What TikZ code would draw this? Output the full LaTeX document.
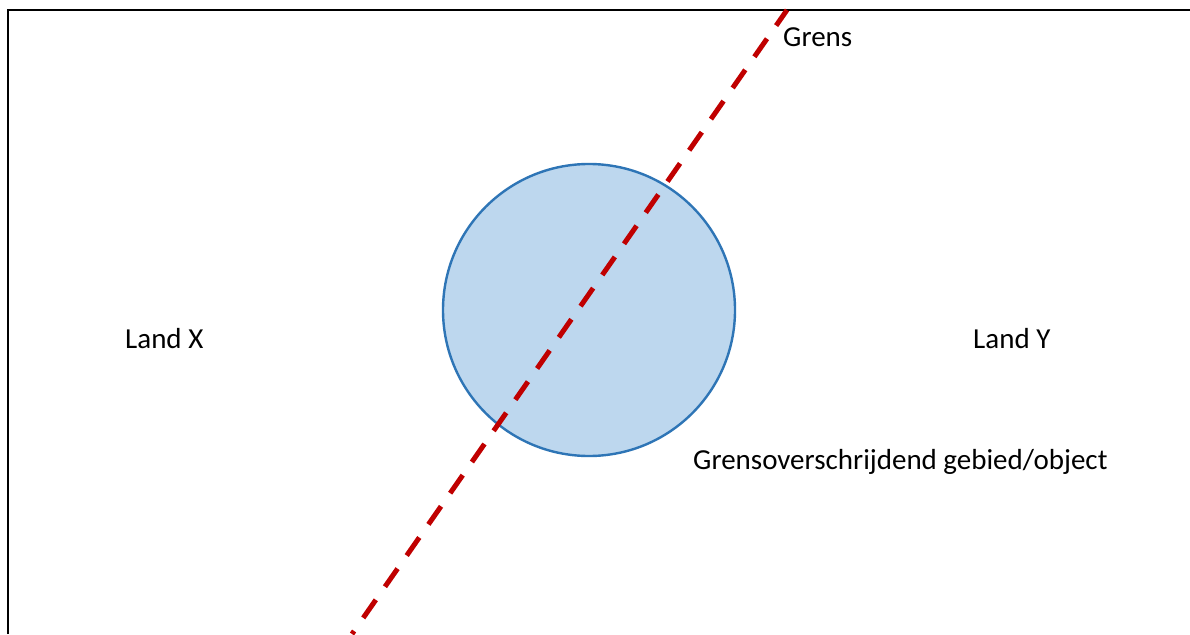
\documentclass[tikz,border=0pt]{standalone}
\usepackage{fontspec}
\setmainfont{Carlito}
\definecolor{areafill}{HTML}{BDD7EE}
\definecolor{areadraw}{HTML}{2E75B6}
\definecolor{grensred}{HTML}{C00000}
\begin{document}
\begin{tikzpicture}[x=1pt,y=-1pt,
  framestyle/.style={line width=2.2pt, black},
  areastyle/.style={circle, draw=areadraw, fill=areafill, line width=2.4pt, minimum size=292pt, inner sep=0pt},
  grensline/.style={draw=grensred, line width=5pt, dash pattern=on 22pt off 16pt, dash phase=3pt},
  lbl/.style={inner sep=0pt, anchor=base west, font=\fontsize{29}{35}\selectfont, text=black}]
\useasboundingbox (0,0) rectangle (1190,634);
\fill[white] (0,0) rectangle (1190,634);
\draw[framestyle] (8,634) -- (8,10) -- (1190,10);
\node[areastyle] (area) at (589,310) {};
\coordinate (top) at (787,10);
\coordinate (bot) at (352,634);
\draw[grensline] (top) -- (bot);
\node[lbl] (grens) at (783,47) {Grens};
\node[lbl] (landx) at (125,348) {Land X};
\node[lbl] (landy) at (973,348) {Land Y};
\node[lbl] (obj) at (693,469) {Grensoverschrijdend gebied/object};
\end{tikzpicture}
\end{document}
